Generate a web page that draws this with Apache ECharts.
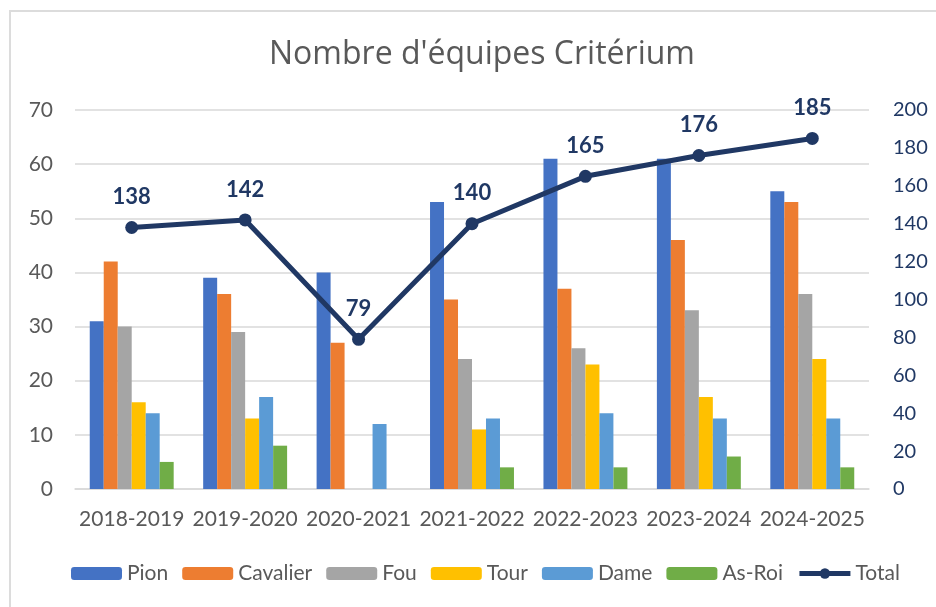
<!DOCTYPE html>
<html lang="fr">
<head>
<meta charset="UTF-8">
<title>Nombre d'équipes Critérium</title>
<script src="https://cdn.jsdelivr.net/npm/echarts@6/dist/echarts.min.js"></script>
<style>
  body { margin: 0; background: #fff; }
  #frame { position: absolute; left: 9px; top: 10px; width: 940px; height: 610px; border: 2px solid #dcdcdc; }
  #main { position: absolute; left: 0; top: 0; width: 936px; height: 607px; }
</style>
</head>
<body>
<div id="frame"></div>
<div id="main"></div>
<script>
// saisons
var saisons = ['2018-2019', '2019-2020', '2020-2021', '2021-2022', '2022-2023', '2023-2024', '2024-2025'];
// équipes par catégorie
var pion     = [31, 39, 40, 53, 61, 61, 55];
var cavalier = [42, 36, 27, 35, 37, 46, 53];
var fou      = [30, 29, 0, 24, 26, 33, 36];
var tour     = [16, 13, 0, 11, 23, 17, 24];
var dame     = [14, 17, 12, 13, 14, 13, 13];
var asRoi    = [5, 8, 0, 4, 4, 6, 4];
var total    = [138, 142, 79, 140, 165, 176, 185];

var chart = echarts.init(document.getElementById('main'));
var font = 'Lato, "Open Sans", sans-serif';
var navy = '#203864';
var grey = '#595959';

function barSerie(name, data, color) {
    return { name: name, type: 'bar', data: data, barGap: 0, barCategoryGap: '26%',
             itemStyle: { color: color } };
}

var option = {
    animation: false,
    textStyle: { fontFamily: font },
    title: {
        text: "Nombre d'équipes Critérium",
        left: 264, top: 34,
        textStyle: { fontFamily: '"Open Sans", sans-serif', fontWeight: 'normal', fontSize: 32, color: grey }
    },
    legend: {
        top: 558, left: 66,
        itemWidth: 51, itemHeight: 13, itemGap: 14,
        textStyle: { fontFamily: font, fontSize: 21, color: grey },
        data: ['Pion', 'Cavalier', 'Fou', 'Tour', 'Dame', 'As-Roi',
               { name: 'Total', itemStyle: { color: navy }, lineStyle: { color: navy, width: 5 } }]
    },
    grid: { left: 75, right: 67, top: 110, bottom: 118 },
    xAxis: {
        type: 'category', data: saisons,
        axisTick: { show: false },
        axisLine: { lineStyle: { color: '#d9d9d9', width: 1.5 } },
        axisLabel: { interval: 0, fontSize: 21, color: grey, margin: 20, fontFamily: font }
    },
    yAxis: [{
        type: 'value', min: 0, max: 70, interval: 10,
        axisLabel: { fontSize: 21, color: grey, margin: 22, fontFamily: font },
        splitLine: { lineStyle: { color: '#d9d9d9', width: 1.5 } }
    }, {
        type: 'value', min: 0, max: 200, interval: 20,
        axisLabel: { fontSize: 20, color: navy, margin: 24, fontFamily: font },
        splitLine: { show: false }
    }],
    series: [
        barSerie('Pion', pion, '#4472c4'),
        barSerie('Cavalier', cavalier, '#ed7d31'),
        barSerie('Fou', fou, '#a5a5a5'),
        barSerie('Tour', tour, '#ffc000'),
        barSerie('Dame', dame, '#5b9bd5'),
        barSerie('As-Roi', asRoi, '#70ad47'),
        {
            name: 'Total', type: 'line', yAxisIndex: 1,
            data: total,
            symbol: 'circle', symbolSize: 13,
            lineStyle: { color: navy, width: 5 },
            itemStyle: { color: navy },
            label: { show: true, position: 'top', distance: 13, fontSize: 22, fontWeight: 'bold', color: navy, fontFamily: font },
            z: 5
        }
    ]
};

chart.setOption(option);
</script>
</body>
</html>
